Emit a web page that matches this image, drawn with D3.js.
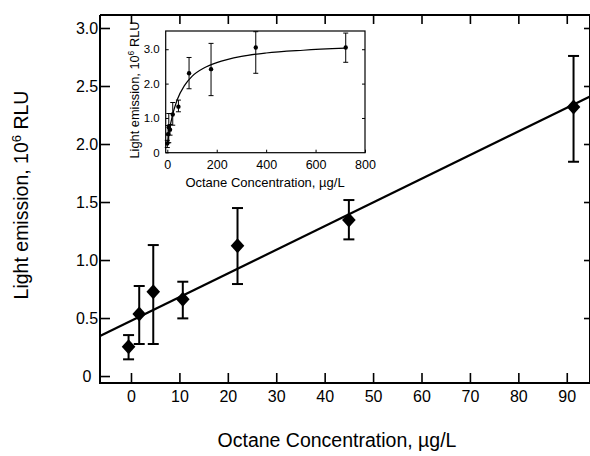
<!DOCTYPE html>
<html>
<head>
<meta charset="utf-8">
<script src="https://cdn.jsdelivr.net/npm/d3@7"></script>
<style>
  html, body { margin: 0; padding: 0; background: #fff; }
  svg { display: block; font-family: "Liberation Sans", Arial, Helvetica, sans-serif; }
</style>
</head>
<body>
<svg id="chart" width="590" height="456"></svg>
<script>
// ---- Main chart data ----
const mainConc  = [-0.5, 1.7, 4.6, 10.7, 22.0, 45.0, 91.4];
const mainValue = [0.253, 0.534, 0.727, 0.661, 1.123, 1.345, 2.32];
const mainHi    = [0.353, 0.776, 1.129, 0.813, 1.448, 1.517, 2.759];
const mainLo    = [0.144, 0.276, 0.276, 0.497, 0.793, 1.178, 1.847];
const fitX = [-6.4, 94.8];
const fitY = [0.345, 2.41];
const mainXTicks = [0, 10, 20, 30, 40, 50, 60, 70, 80, 90];
const mainYTicks = [0, 0.5, 1.0, 1.5, 2.0, 2.5, 3.0];
const mainYTickLabels = ["0", "0.5", "1.0", "1.5", "2.0", "2.5", "3.0"];

// ---- Inset data ----
const insetConc  = [0, 3, 6, 11, 22, 45, 88, 177, 358, 722];
const insetValue = [0.26, 0.53, 0.73, 0.66, 1.10, 1.33, 2.30, 2.42, 3.05, 3.05];
const insetHi    = [0.35, 0.78, 1.13, 0.81, 1.45, 1.52, 2.76, 3.17, 3.51, 3.47];
const insetLo    = [0.14, 0.28, 0.28, 0.50, 0.79, 1.18, 1.85, 1.65, 2.30, 2.62];
const curveX = [0, 5, 10, 20, 40, 70, 100, 150, 200, 300, 400, 550, 720];
const curveY = [0.2, 0.47, 0.70, 1.05, 1.53, 1.95, 2.21, 2.46, 2.61, 2.79, 2.89, 2.97, 3.03];
const insetXTicks = [0, 200, 400, 600, 800];
const insetYTicks = [0, 1, 2, 3];
const insetYTickLabels = ["0", "1.0", "2.0", "3.0"];

const svg = d3.select("#chart");

// ===== Main plot =====
const M = { left: 100, right: 590, top: 15, bottom: 383 };
const x = d3.scaleLinear().domain([-6.4, 94.8]).range([M.left, M.right]);
const y = d3.scaleLinear().domain([-0.06, 3.112]).range([M.bottom, M.top]);

const axisColor = "#000";
// frame lines
svg.append("line").attr("x1", M.left).attr("x2", M.right + 1).attr("y1", M.bottom).attr("y2", M.bottom)
  .attr("stroke", axisColor).attr("stroke-width", 2);
svg.append("line").attr("x1", M.left).attr("x2", M.left).attr("y1", M.top).attr("y2", M.bottom + 1)
  .attr("stroke", axisColor).attr("stroke-width", 2);
svg.append("line").attr("x1", M.left).attr("x2", M.right + 1).attr("y1", M.top).attr("y2", M.top)
  .attr("stroke", axisColor).attr("stroke-width", 2);
svg.append("line").attr("x1", M.right).attr("x2", M.right).attr("y1", M.top).attr("y2", M.bottom)
  .attr("stroke", axisColor).attr("stroke-width", 2);

// bottom axis (inward ticks)
const gx = svg.append("g").attr("transform", `translate(0,${M.bottom})`)
  .call(d3.axisBottom(x).tickValues(mainXTicks).tickSize(-10).tickPadding(8).tickFormat(d3.format("d")));
gx.select(".domain").remove();
gx.selectAll("line").attr("stroke-width", 1.6);
gx.selectAll("text").attr("font-size", 16).attr("fill", "#000");

// top axis ticks
const gxt = svg.append("g").attr("transform", `translate(0,${M.top})`)
  .call(d3.axisTop(x).tickValues(mainXTicks).tickSize(-9).tickFormat(""));
gxt.select(".domain").remove();
gxt.selectAll("line").attr("stroke-width", 1.6);

// left axis
const gy = svg.append("g").attr("transform", `translate(${M.left},0)`)
  .call(d3.axisLeft(y).tickValues(mainYTicks).tickSize(-10).tickPadding(0)
    .tickFormat((d, i) => mainYTickLabels[i]));
gy.select(".domain").remove();
gy.selectAll("line").attr("stroke-width", 1.6);
gy.selectAll("text").attr("font-size", 16).attr("fill", "#000")
  .attr("text-anchor", "middle").attr("x", -13);

// right axis ticks
const gyr = svg.append("g").attr("transform", `translate(${M.right},0)`)
  .call(d3.axisRight(y).tickValues(mainYTicks.filter(d => d > 0)).tickSize(-6).tickFormat(""));
gyr.select(".domain").remove();
gyr.selectAll("line").attr("stroke-width", 1.6);

// clip
svg.append("clipPath").attr("id", "mainClip").append("rect")
  .attr("x", M.left).attr("y", M.top).attr("width", M.right - M.left).attr("height", M.bottom - M.top);

// regression line
const fitData = fitX.map((d, i) => [d, fitY[i]]);
svg.append("path").datum(fitData)
  .attr("clip-path", "url(#mainClip)")
  .attr("d", d3.line().x(d => x(d[0])).y(d => y(d[1])))
  .attr("fill", "none").attr("stroke", "#000").attr("stroke-width", 2.2);

// error bars
const mainData = mainConc.map((c, i) => ({ c, v: mainValue[i], hi: mainHi[i], lo: mainLo[i] }));
const eb = svg.append("g").attr("stroke", "#000").attr("stroke-width", 2);
mainData.forEach(d => {
  eb.append("line").attr("x1", x(d.c)).attr("x2", x(d.c)).attr("y1", y(d.hi)).attr("y2", y(d.lo));
  eb.append("line").attr("x1", x(d.c) - 5.5).attr("x2", x(d.c) + 5.5).attr("y1", y(d.hi)).attr("y2", y(d.hi));
  eb.append("line").attr("x1", x(d.c) - 5.5).attr("x2", x(d.c) + 5.5).attr("y1", y(d.lo)).attr("y2", y(d.lo));
});
// diamonds
svg.append("g").selectAll("path").data(mainData).join("path")
  .attr("transform", d => `translate(${x(d.c)},${y(d.v)})`)
  .attr("d", "M0,-7.5L6.8,0L0,7.5L-6.8,0Z")
  .attr("fill", "#000");

// axis titles
svg.append("text").attr("x", 337).attr("y", 447).attr("text-anchor", "middle")
  .attr("font-size", 19.5).attr("fill", "#000").text("Octane Concentration, µg/L");
const yl = svg.append("text").attr("transform", "translate(28,195) rotate(-90)")
  .attr("text-anchor", "middle").attr("font-size", 19.5).attr("fill", "#000");
yl.append("tspan").text("Light emission, 10");
yl.append("tspan").attr("font-size", 13).attr("dy", -7).text("6");
yl.append("tspan").attr("dy", 7).text(" RLU");

// ===== Inset =====
const I = { left: 165.7, right: 365, top: 31, bottom: 152.7 };
const ix = d3.scaleLinear().domain([-6.5, 800]).range([I.left, I.right]);
const iy = d3.scaleLinear().domain([-0.01, 3.53]).range([I.bottom, I.top]);

svg.append("rect").attr("x", I.left).attr("y", I.top)
  .attr("width", I.right - I.left).attr("height", I.bottom - I.top)
  .attr("fill", "#fff").attr("stroke", "#000").attr("stroke-width", 1.2);

const igx = svg.append("g").attr("transform", `translate(0,${I.bottom})`)
  .call(d3.axisBottom(ix).tickValues(insetXTicks).tickSize(-3).tickPadding(7).tickFormat(d3.format("d")));
igx.select(".domain").remove();
igx.selectAll("text").attr("font-size", 12.5).attr("fill", "#000");

const igy = svg.append("g").attr("transform", `translate(${I.left},0)`)
  .call(d3.axisLeft(iy).tickValues(insetYTicks).tickSize(-3).tickPadding(6)
    .tickFormat((d, i) => insetYTickLabels[i]));
igy.select(".domain").remove();
igy.selectAll("text").attr("font-size", 11.5).attr("fill", "#000");

const igyr = svg.append("g").attr("transform", `translate(${I.right},0)`)
  .call(d3.axisRight(iy).tickValues(insetYTicks.filter(d => d > 0)).tickSize(-3).tickFormat(""));
igyr.select(".domain").remove();

// inset curve
const curveData = curveX.map((d, i) => [d, curveY[i]]);
svg.append("path").datum(curveData)
  .attr("d", d3.line().x(d => ix(d[0])).y(d => iy(d[1])).curve(d3.curveMonotoneX))
  .attr("fill", "none").attr("stroke", "#000").attr("stroke-width", 1.2);

// inset error bars and points
const insetData = insetConc.map((c, i) => ({ c, v: insetValue[i], hi: insetHi[i], lo: insetLo[i] }));
const ieb = svg.append("g").attr("stroke", "#000").attr("stroke-width", 1);
insetData.forEach(d => {
  ieb.append("line").attr("x1", ix(d.c)).attr("x2", ix(d.c)).attr("y1", iy(d.hi)).attr("y2", iy(d.lo));
  ieb.append("line").attr("x1", ix(d.c) - 2.5).attr("x2", ix(d.c) + 2.5).attr("y1", iy(d.hi)).attr("y2", iy(d.hi));
  ieb.append("line").attr("x1", ix(d.c) - 2.5).attr("x2", ix(d.c) + 2.5).attr("y1", iy(d.lo)).attr("y2", iy(d.lo));
});
svg.append("g").selectAll("circle").data(insetData).join("circle")
  .attr("cx", d => ix(d.c)).attr("cy", d => iy(d.v)).attr("r", 2.2).attr("fill", "#000");

// inset titles
svg.append("text").attr("x", 265).attr("y", 187).attr("text-anchor", "middle")
  .attr("font-size", 13).attr("fill", "#000").text("Octane Concentration, µg/L");
const iyl = svg.append("text").attr("transform", "translate(139,90) rotate(-90)")
  .attr("text-anchor", "middle").attr("font-size", 12.8).attr("fill", "#000");
iyl.append("tspan").text("Light emission, 10");
iyl.append("tspan").attr("font-size", 8.5).attr("dy", -5).text("6");
iyl.append("tspan").attr("dy", 5).text(" RLU");
</script>
</body>
</html>
